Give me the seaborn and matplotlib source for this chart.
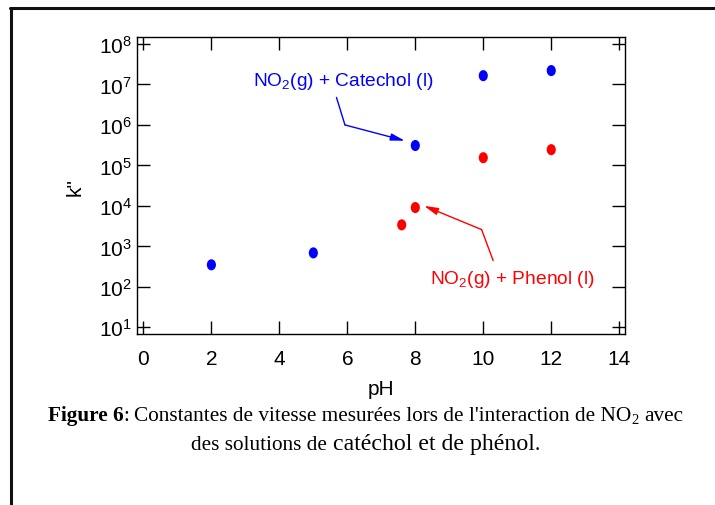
import matplotlib
matplotlib.use("Agg")
import matplotlib.pyplot as plt
from matplotlib.lines import Line2D
from matplotlib.markers import MarkerStyle
from matplotlib.transforms import Affine2D
import pandas as pd
import seaborn as sns

# Measured second-order rate constants
ph_catechol = [2, 5, 8, 10, 12]
k_catechol = [3.5e2, 6.9e2, 3.1e5, 1.65e7, 2.2e7]
ph_phenol = [7.6, 8, 10, 12]
k_phenol = [3.4e3, 9.1e3, 1.55e5, 2.45e5]

series_names = ["NO$_2$(g) + Catechol (l)", "NO$_2$(g) + Phenol (l)"]
series_colors = ["#0000ff", "#ff0000"]
x_ticks = [0, 2, 4, 6, 8, 10, 12, 14]
y_decades = [1, 2, 3, 4, 5, 6, 7, 8]

df = pd.concat([
    pd.DataFrame({"pH": ph_catechol, "k": k_catechol, "system": series_names[0]}),
    pd.DataFrame({"pH": ph_phenol, "k": k_phenol, "system": series_names[1]}),
], ignore_index=True)

sns.set_theme(style="ticks")
plt.rcParams["font.family"] = ["Liberation Sans", "DejaVu Sans"]
plt.rcParams["mathtext.default"] = "regular"

W, H = 715, 506
fig = plt.figure(figsize=(W / 100, H / 100), dpi=100)
fig.patch.set_facecolor("white")

left, right, top, bottom = 137.3, 625, 38.3, 335
ax = fig.add_axes([left / W, 1 - bottom / H, (right - left) / W, (bottom - top) / H])

marker = MarkerStyle("o", transform=Affine2D().scale(0.82, 1.0))
sns.scatterplot(data=df, x="pH", y="k", hue="system",
                palette=dict(zip(series_names, series_colors)),
                marker=marker, s=64, linewidth=0, legend=False, ax=ax)

ax.set_yscale("log")
ax.set_xlim(-0.18, 14.17)
ax.set_ylim(10 ** 0.835, 10 ** 8.165)
ax.set_xticks(x_ticks)
ax.set_yticks([10.0 ** d for d in y_decades])
ax.yaxis.set_minor_locator(matplotlib.ticker.NullLocator())

for s in ax.spines.values():
    s.set_color("black")
    s.set_linewidth(1.0)

ax.tick_params(axis="both", which="major", direction="in", length=9.5, width=1.0,
               color="black", top=True, right=True, labelsize=15, labelcolor="black")
ax.tick_params(axis="x", pad=11)
ax.tick_params(axis="y", pad=4)

ax.set_xlabel("pH", fontsize=15, color="black", labelpad=8)
ax.set_ylabel('k"', fontsize=15, color="black", labelpad=10)

# Series labels with bent pointer lines
label_fs = 13.8
ax.text(5.87, 10 ** 7.09, series_names[0], color=series_colors[0], fontsize=label_fs,
        ha="center", va="center")
ax.plot([5.68, 5.93], [10 ** 6.68, 10 ** 6.0], color=series_colors[0], lw=1.0)
ax.annotate("", xy=(7.69, 10 ** 5.61), xytext=(5.93, 10 ** 6.0),
            arrowprops=dict(arrowstyle="-|>,head_length=0.7,head_width=0.18",
                            color=series_colors[0], lw=1.0, shrinkA=0, shrinkB=0))

ax.text(10.87, 10 ** 2.2, series_names[1], color=series_colors[1], fontsize=label_fs,
        ha="center", va="center")
ax.plot([10.29, 9.95], [10 ** 2.65, 10 ** 3.415], color=series_colors[1], lw=1.0)
ax.annotate("", xy=(8.26, 10 ** 4.0), xytext=(9.95, 10 ** 3.415),
            arrowprops=dict(arrowstyle="-|>,head_length=0.7,head_width=0.18",
                            color=series_colors[1], lw=1.0, shrinkA=0, shrinkB=0))

# Page frame
fig.add_artist(Line2D([10 / W, 1.0], [1 - 9 / H, 1 - 9 / H], transform=fig.transFigure,
                      color="#111111", lw=2.2))
fig.add_artist(Line2D([10.5 / W, 10.5 / W], [0.0, 1 - 9 / H], transform=fig.transFigure,
                      color="#111111", lw=2.2))

# Caption, built from pieces laid out along a shared baseline
serif = ["Liberation Serif", "DejaVu Serif"]
renderer = fig.canvas.get_renderer()


def text_width(s, size, weight="normal"):
    t = fig.text(0, 0, s, fontsize=size, fontweight=weight, family=serif)
    w = t.get_window_extent(renderer).width
    t.remove()
    return w


def caption_line(pieces, baseline_px, center_px):
    widths = []
    for s, size, weight, gap, dy in pieces:
        w = text_width(s, size, weight)
        g = (text_width("x x", size) - text_width("xx", size)) if gap else 0.0
        widths.append((g, w))
    total = sum(g + w for g, w in widths)
    x = center_px - total / 2
    for (s, size, weight, gap, dy), (g, w) in zip(pieces, widths):
        x += g
        fig.text(x / W, 1 - (baseline_px + dy) / H, s, fontsize=size, fontweight=weight,
                 family=serif, color="black", ha="left", va="baseline")
        x += w


cap_fs = 15.3
caption_center = 365.5
caption_line([
    ("Figure 6", cap_fs, "bold", False, 0),
    (":", cap_fs, "normal", False, 0),
    ("Constantes de vitesse mesurées lors de l'interaction de NO", cap_fs, "normal", True, 0),
    ("2", 10.5, "normal", False, 3),
    ("avec", cap_fs, "normal", True, 0),
], 421, caption_center)
caption_line([
    ("des solutions de", cap_fs, "normal", False, 0),
    ("catéchol et de phénol", 17.2, "normal", True, 0),
    (".", cap_fs, "normal", False, 0),
], 450, caption_center)

fig.savefig("out.png", dpi=100, facecolor="white")
